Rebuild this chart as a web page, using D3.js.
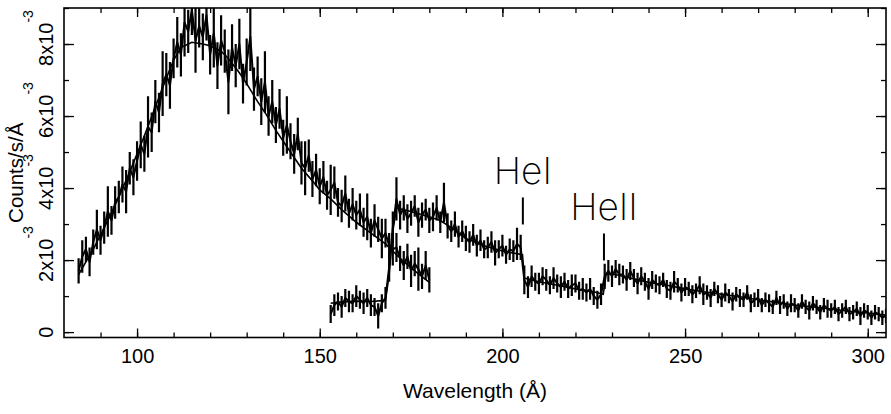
<!DOCTYPE html>
<html>
<head>
<meta charset="utf-8">
<script src="https://cdn.jsdelivr.net/npm/d3@7"></script>
<style>
body { margin: 0; background: #fff; }
svg { display: block; }
text { font-family: "Liberation Sans", Arial, sans-serif; fill: #000; }
</style>
</head>
<body>
<script>
var width = 891;
var height = 414;

// spectrum 1 (short wavelength detector), 1 A bins, counts/s/A in units of 1e-3
var wlA = d3.range(84, 181);
var valA = [
    1.70,2.10,2.30,1.95,2.50,2.85,2.55,2.90,3.35,3.10,3.60,
    3.75,4.10,3.90,4.55,4.30,4.75,5.20,4.95,5.70,5.55,6.40,
    6.10,6.90,7.15,6.85,7.60,8.05,7.70,8.60,8.35,8.95,8.10,
    8.50,8.20,8.80,7.70,8.30,7.40,8.10,7.80,6.95,7.90,7.40,
    8.00,6.90,7.50,8.20,6.75,7.10,6.40,6.95,6.00,6.40,5.75,
    6.20,5.40,5.75,5.30,4.95,5.50,4.70,4.55,4.90,4.25,4.50,
    4.05,4.30,3.80,3.95,4.15,3.60,3.50,3.85,3.30,3.55,3.25,
    3.40,3.05,3.20,2.75,3.10,2.85,2.60,2.75,2.40,2.30,2.35,
    2.05,1.85,2.10,1.70,1.90,1.75,1.55,1.85,1.45
];
var errA = [
    0.35,0.45,0.35,0.40,0.35,0.55,0.40,0.45,0.70,0.40,0.45,
    0.45,0.50,0.60,0.45,0.50,0.55,0.65,0.50,0.85,0.55,0.60,
    0.55,0.90,0.60,0.65,0.55,0.70,0.60,0.95,0.60,0.70,0.90,
    0.60,0.65,0.70,0.55,0.95,0.65,0.70,0.60,0.90,0.65,0.60,
    0.70,0.55,0.65,0.95,0.60,0.55,0.65,0.85,0.55,0.60,0.50,
    0.55,0.50,0.80,0.50,0.55,0.45,0.60,0.75,0.45,0.50,0.45,
    0.50,0.45,0.40,0.70,0.45,0.40,0.45,0.50,0.40,0.45,0.40,
    0.45,0.40,0.65,0.40,0.45,0.35,0.55,0.40,0.35,0.45,0.40,
    0.35,0.40,0.35,0.45,0.35,0.60,0.35,0.40,0.35
];

// spectrum 2 (long wavelength detector)
var wlB = d3.range(153, 306);
var valB = [
    0.50,0.75,0.85,0.70,0.95,0.85,0.80,1.00,0.90,0.80,
    0.95,0.75,0.70,0.45,0.80,0.95,1.80,2.90,3.70,3.25,
    3.45,3.15,3.30,3.50,3.05,3.25,3.40,3.10,3.20,3.45,
    3.05,3.60,2.95,2.80,3.00,2.65,2.80,2.60,2.50,2.70,
    2.40,2.55,2.30,2.35,2.50,2.20,2.30,2.40,2.15,2.30,
    2.25,2.45,2.35,1.45,1.25,1.55,1.40,1.35,1.55,1.45,
    1.30,1.50,1.35,1.25,1.40,1.20,1.30,1.35,1.15,1.20,
    1.10,1.20,1.00,0.90,1.05,1.55,1.70,1.55,1.75,1.60,
    1.60,1.45,1.70,1.50,1.35,1.55,1.40,1.20,1.45,1.35,
    1.30,1.45,1.20,1.15,1.40,1.30,1.10,1.25,1.20,1.05,
    1.15,1.30,1.05,1.10,0.95,1.20,1.05,0.90,1.10,1.00,
    0.85,1.05,0.95,0.90,1.10,0.80,0.90,0.95,0.75,0.90,
    0.80,0.70,0.95,0.75,0.85,0.65,0.80,0.75,0.60,0.85,
    0.70,0.60,0.80,0.70,0.55,0.75,0.65,0.60,0.70,0.50,
    0.60,0.70,0.50,0.55,0.65,0.45,0.60,0.55,0.40,0.55,
    0.50,0.40,0.45
];
var errB = [
    0.25,0.30,0.25,0.30,0.25,0.30,0.25,0.30,0.25,0.30,
    0.25,0.30,0.25,0.35,0.25,0.30,0.40,0.45,0.60,0.40,
    0.35,0.40,0.35,0.30,0.40,0.35,0.30,0.35,0.40,0.35,
    0.30,0.55,0.35,0.30,0.35,0.30,0.30,0.35,0.30,0.30,
    0.30,0.30,0.25,0.30,0.30,0.35,0.25,0.30,0.25,0.30,
    0.30,0.45,0.35,0.40,0.30,0.30,0.25,0.30,0.25,0.30,
    0.25,0.30,0.25,0.30,0.25,0.25,0.30,0.25,0.25,0.30,
    0.25,0.30,0.25,0.25,0.30,0.35,0.30,0.30,0.25,0.30,
    0.25,0.30,0.25,0.25,0.30,0.25,0.25,0.30,0.25,0.25,
    0.25,0.20,0.25,0.25,0.30,0.20,0.25,0.25,0.20,0.25,
    0.20,0.25,0.30,0.20,0.25,0.20,0.25,0.20,0.25,0.20,
    0.25,0.20,0.25,0.20,0.20,0.25,0.20,0.25,0.20,0.20,
    0.25,0.20,0.20,0.25,0.20,0.20,0.25,0.20,0.20,0.20,
    0.20,0.25,0.20,0.20,0.20,0.20,0.25,0.20,0.20,0.20,
    0.20,0.20,0.20,0.20,0.20,0.25,0.20,0.20,0.20,0.20,
    0.20,0.20,0.20
];

// model fits [wavelength, value]
var modelA = [[84,1.6],[86,1.95],[88,2.3],[90,2.7],[92,3.1],[95,3.75],[98,4.45],[100,4.95],
    [102,5.45],[105,6.25],[108,7.05],[110,7.55],[112,7.9],[115,8.05],[118,8.0],[120,7.95],
    [123,7.8],[125,7.6],[128,7.2],[130,6.9],[133,6.4],[135,6.1],[138,5.6],[140,5.3],
    [143,4.85],[145,4.55],[148,4.2],[150,3.95],[153,3.7],[156,3.4],[160,3.05],[164,2.75],
    [168,2.45],[172,2.05],[176,1.7],[180,1.38]];
var modelB = [[153,0.8],[156,0.84],[160,0.86],[164,0.85],[168,0.88],[169,1.6],[170,2.8],
    [171,3.45],[175,3.35],[180,3.2],[183,3.1],[186,2.9],[190,2.6],[195,2.4],[200,2.25],
    [205.5,2.15],[206,1.5],[210,1.4],[215,1.3],[220,1.2],[225,1.12],[227.6,1.05],[228.4,1.6],
    [230,1.62],[235,1.5],[240,1.38],[245,1.3],[250,1.2],[255,1.12],[260,1.05],[265,0.98],
    [270,0.9],[275,0.82],[280,0.75],[285,0.7],[290,0.64],[295,0.58],[300,0.53],[305,0.47]];

var xMajor = [100, 150, 200, 250, 300];
var xMinor = d3.range(90, 301, 10);
var yMajor = [0, 2, 4, 6, 8];
var yMinor = d3.range(0, 10, 1);
var edges = [{name: "HeI", wl: 205.6, top: 4.1}, {name: "HeII", wl: 227.8, top: 3.1}];

var padL = 64, padR = 886, padT = 8, padB = 337.5;
var x = d3.scaleLinear().domain([80, 305]).range([padL, padR]);
var y = d3.scaleLinear().domain([-0.15, 9.0]).range([padB, padT]);

var svg = d3.select("body").append("svg").attr("width", width).attr("height", height);

svg.append("clipPath").attr("id", "plot")
    .append("rect").attr("x", padL).attr("y", padT).attr("width", padR - padL).attr("height", padB - padT);

var plot = svg.append("g").attr("clip-path", "url(#plot)");

function drawSpectrum(wl, val, err, model) {
    var pts = wl.map(function (w, i) { return {w: w, v: val[i], e: err[i]}; });
    plot.append("path")
        .datum(pts)
        .attr("d", d3.line().x(function (d) { return x(d.w); }).y(function (d) { return y(d.v); }))
        .attr("fill", "none").attr("stroke", "#000").attr("stroke-width", 2)
        .attr("stroke-linejoin", "round");
    plot.selectAll(null)
        .data(pts)
        .enter()
        .append("line")
        .attr("x1", function (d) { return x(d.w); })
        .attr("x2", function (d) { return x(d.w); })
        .attr("y1", function (d) { return y(d.v - d.e); })
        .attr("y2", function (d) { return y(d.v + d.e); })
        .attr("stroke", "#000").attr("stroke-width", 2.2);
    plot.append("path")
        .datum(model)
        .attr("d", d3.line().x(function (d) { return x(d[0]); }).y(function (d) { return y(d[1]); }))
        .attr("fill", "none").attr("stroke", "#000").attr("stroke-width", 1.6);
}

drawSpectrum(wlA, valA, errA, modelA);
drawSpectrum(wlB, valB, errB, modelB);

// frame and inward ticks on all four sides
function styleAxis(g) {
    g.select(".domain").remove();
    g.selectAll("line").attr("stroke", "#000").attr("stroke-width", 1.3);
}
svg.append("g").attr("transform", "translate(0," + padB + ")")
    .call(d3.axisBottom(x).tickValues(xMinor).tickSize(-5).tickFormat(""))
    .call(styleAxis);
svg.append("g").attr("transform", "translate(0," + padB + ")")
    .call(d3.axisBottom(x).tickValues(xMajor).tickSize(-9).tickPadding(11).tickFormat(d3.format("d")))
    .call(styleAxis)
    .selectAll("text").style("font-size", "20px").style("font-family", "Liberation Sans, sans-serif");
svg.append("g").attr("transform", "translate(0," + padT + ")")
    .call(d3.axisTop(x).tickValues(xMinor).tickSize(-5).tickFormat(""))
    .call(styleAxis);
svg.append("g").attr("transform", "translate(0," + padT + ")")
    .call(d3.axisTop(x).tickValues(xMajor).tickSize(-9).tickFormat(""))
    .call(styleAxis);
svg.append("g").attr("transform", "translate(" + padL + ",0)")
    .call(d3.axisLeft(y).tickValues(yMinor).tickSize(-5).tickFormat(""))
    .call(styleAxis);
svg.append("g").attr("transform", "translate(" + padL + ",0)")
    .call(d3.axisLeft(y).tickValues(yMajor).tickSize(-10).tickFormat(""))
    .call(styleAxis);
svg.append("g").attr("transform", "translate(" + padR + ",0)")
    .call(d3.axisRight(y).tickValues(yMinor).tickSize(-5).tickFormat(""))
    .call(styleAxis);
svg.append("g").attr("transform", "translate(" + padR + ",0)")
    .call(d3.axisRight(y).tickValues(yMajor).tickSize(-10).tickFormat(""))
    .call(styleAxis);

svg.append("rect")
    .attr("x", padL).attr("y", padT).attr("width", padR - padL).attr("height", padB - padT)
    .attr("fill", "none").attr("stroke", "#000").attr("stroke-width", 1.6);

// rotated y tick labels with exponent
var yLab = svg.selectAll(".ylab")
    .data(yMajor)
    .enter()
    .append("text")
    .attr("class", "ylab")
    .attr("transform", function (d) { return "translate(53," + (y(d) - (d === 0 ? 0 : 6)) + ") rotate(-90)"; })
    .attr("text-anchor", "middle")
    .style("font-size", "20px");
yLab.append("tspan").text(function (d) { return d === 0 ? "0" : d + "x10"; });
yLab.filter(function (d) { return d !== 0; })
    .append("tspan").attr("dy", -20).style("font-size", "14px").text("-3");

svg.append("text")
    .attr("transform", "translate(23," + ((padT + padB) / 2) + ") rotate(-90)")
    .attr("text-anchor", "middle")
    .style("font-size", "20.5px")
    .text("Counts/s/Å");

svg.append("text")
    .attr("x", 475).attr("y", 398)
    .attr("text-anchor", "middle")
    .style("font-size", "21px")
    .text("Wavelength (Å)");

// absorption edge markers
svg.selectAll(".edge")
    .data(edges)
    .enter()
    .append("line")
    .attr("x1", function (d) { return x(d.wl); })
    .attr("x2", function (d) { return x(d.wl); })
    .attr("y1", function (d) { return y(d.top) + 13; })
    .attr("y2", function (d) { return y(d.top) + 40; })
    .attr("stroke", "#000").attr("stroke-width", 2);
svg.selectAll(".edgelab")
    .data(edges)
    .enter()
    .append("text")
    .attr("x", function (d) { return x(d.wl); })
    .attr("y", function (d) { return y(d.top); })
    .attr("text-anchor", "middle")
    .style("font-size", "37px")
    .style("font-family", "Inter, 'Open Sans', sans-serif")
    .style("font-weight", 200)
    .text(function (d) { return d.name; });
</script>
</body>
</html>
